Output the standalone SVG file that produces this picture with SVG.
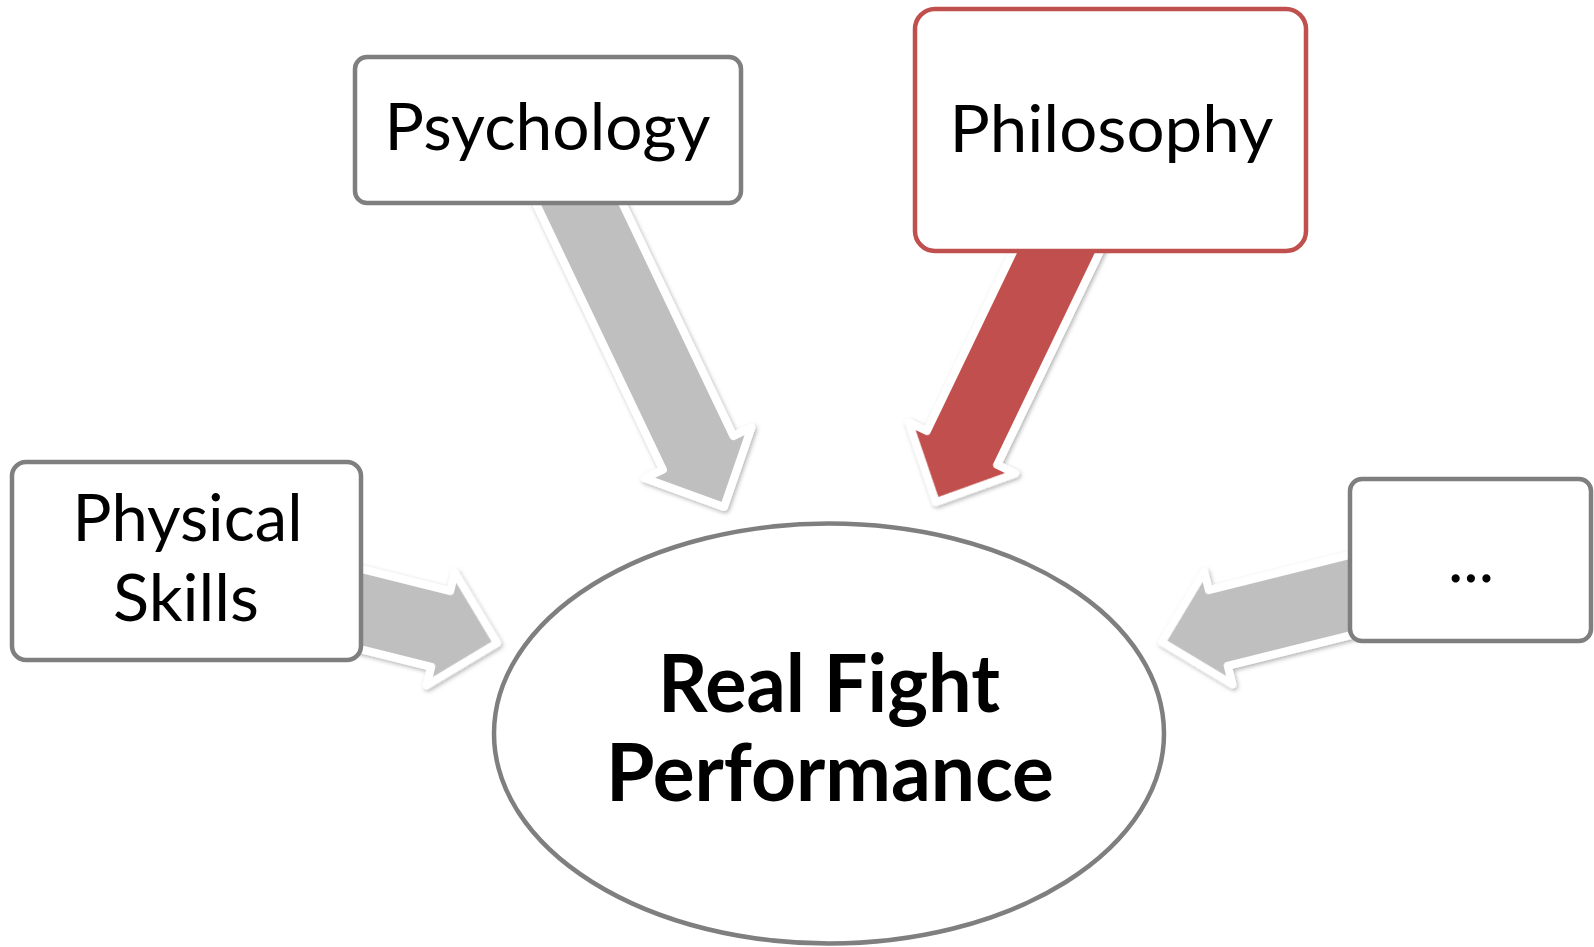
<svg xmlns="http://www.w3.org/2000/svg" width="1594" height="947" viewBox="0 0 1594 947">
  <defs>
    <filter id="soft-shadow" x="-20%" y="-20%" width="140%" height="140%">
      <feDropShadow dx="1.5" dy="2" stdDeviation="2.2" flood-color="#000" flood-opacity="0.3"/>
    </filter>
    <style>
      .box { fill: #ffffff; stroke: #7f7f7f; stroke-width: 4.5; }
      .box-red { fill: #ffffff; stroke: #c0504d; stroke-width: 4.5; }
      .arrow { stroke: #ffffff; stroke-width: 8; stroke-linejoin: round; }
      .arrow-gray { fill: #bfbfbf; }
      .arrow-red { fill: #c0504d; }
      .label { font-family: Lato, "Open Sans", sans-serif; font-size: 65px; fill: #000000; text-anchor: middle; }
      .title { font-family: Lato, "Open Sans", sans-serif; font-size: 81px; font-weight: bold; fill: #000000; text-anchor: middle; }
    </style>
  </defs>

  <rect width="1594" height="947" fill="#ffffff"/>

  <!-- block arrows pointing into the centre ellipse; tip at local origin -->
  <g id="connectors" filter="url(#soft-shadow)">
    <path class="arrow arrow-gray" transform="translate(724,507) rotate(64.5)"
          d="M -357,-39 L -60,-39 L -60,-59 L 0,0 L -60,59 L -60,39 L -357,39 Z"/>
    <path class="arrow arrow-red" transform="translate(936,502) rotate(115.7)"
          d="M -302,-39 L -60,-39 L -60,-59 L 0,0 L -60,59 L -60,39 L -302,39 Z"/>
    <path class="arrow arrow-gray" transform="translate(497,643) rotate(14)"
          d="M -162,-39 L -58,-39 L -58,-58 L 0,0 L -58,58 L -58,39 L -162,39 Z"/>
    <path class="arrow arrow-gray" transform="translate(1162,642) rotate(166)"
          d="M -214,-39 L -58,-39 L -58,-58 L 0,0 L -58,58 L -58,39 L -214,39 Z"/>
  </g>

  <g id="node-performance">
    <ellipse class="box" cx="829" cy="733.5" rx="335" ry="210"/>
    <text class="title" x="829" y="712" textLength="342" lengthAdjust="spacingAndGlyphs">Real Fight</text>
    <text class="title" x="830" y="801" textLength="448" lengthAdjust="spacingAndGlyphs">Performance</text>
  </g>

  <g id="node-psychology">
    <rect class="box" x="355" y="57" width="386" height="146" rx="12"/>
    <text class="label" x="547.5" y="150" textLength="326" lengthAdjust="spacingAndGlyphs">Psychology</text>
  </g>

  <g id="node-philosophy">
    <rect class="box-red" x="915" y="9" width="391" height="242" rx="20"/>
    <text class="label" x="1111.5" y="152" textLength="324" lengthAdjust="spacingAndGlyphs">Philosophy</text>
  </g>

  <g id="node-physical">
    <rect class="box" x="12" y="462" width="349" height="198" rx="14"/>
    <text class="label" x="187.5" y="541" textLength="230" lengthAdjust="spacingAndGlyphs">Physical</text>
    <text class="label" x="186" y="621" textLength="146" lengthAdjust="spacingAndGlyphs">Skills</text>
  </g>

  <g id="node-more">
    <rect class="box" x="1350" y="479" width="241" height="162" rx="12"/>
    <text class="label" x="1471" y="582">...</text>
  </g>
</svg>
